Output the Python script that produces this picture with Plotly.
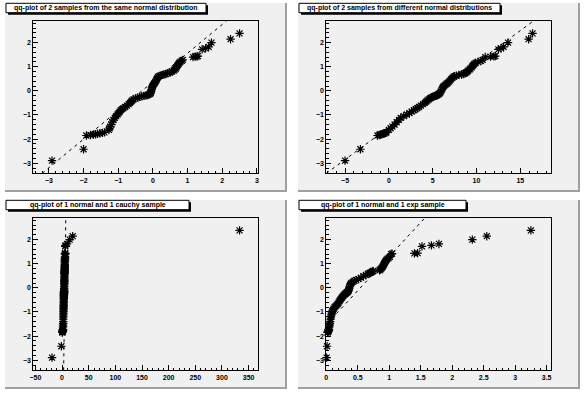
import plotly.graph_objects as go

W, H = 587, 394

# ---------------- data ----------------
# sorted normal sample shared by the vertical axis of all four qq-plots
y_normal = [-2.89, -2.42, -1.85, -1.83, -1.81, -1.80, -1.78, -1.76, -1.74, -1.72,
            -1.62, -1.55, -1.48, -1.40, -1.30, -1.20, -1.12, -1.05, -0.98, -0.92,
            -0.86, -0.80, -0.76, -0.72, -0.67, -0.61, -0.55, -0.50, -0.45, -0.40,
            -0.35, -0.31, -0.28, -0.25, -0.23, -0.21, -0.19, -0.17, -0.15, -0.12,
            -0.08, -0.02, 0.05, 0.12, 0.17, 0.21, 0.25, 0.29, 0.32, 0.36,
            0.42, 0.48, 0.54, 0.58, 0.61, 0.63, 0.66, 0.68, 0.70, 0.73,
            0.76, 0.80, 0.84, 0.88, 0.92, 0.97, 1.03, 1.08, 1.12, 1.16,
            1.20, 1.24, 1.28, 1.40, 1.42, 1.43, 1.44, 1.72, 1.76, 1.82,
            2.00, 2.14, 2.38]

x_same = [-2.91, -2.00, -1.92, -1.80, -1.72, -1.66, -1.60, -1.53, -1.46, -1.40,
          -1.27, -1.25, -1.23, -1.20, -1.17, -1.14, -1.10, -1.06, -1.02, -0.99,
          -0.96, -0.93, -0.89, -0.85, -0.80, -0.75, -0.70, -0.66, -0.63, -0.60,
          -0.56, -0.50, -0.44, -0.38, -0.32, -0.26, -0.20, -0.15, -0.11, -0.08,
          -0.06, -0.05, -0.04, -0.03, -0.02, 0.00, 0.01, 0.03, 0.05, 0.07,
          0.09, 0.11, 0.13, 0.15, 0.18, 0.22, 0.27, 0.32, 0.37, 0.43,
          0.49, 0.55, 0.60, 0.63, 0.66, 0.68, 0.70, 0.72, 0.74, 0.76,
          0.79, 0.83, 0.86, 1.16, 1.22, 1.27, 1.30, 1.42, 1.52, 1.61,
          1.69, 2.24, 2.50]

x_diff = [-5.00, -3.25, -1.30, -1.10, -0.95, -0.80, -0.65, -0.50, -0.38, -0.28,
          0.00, 0.20, 0.40, 0.65, 0.90, 1.15, 1.35, 1.70, 2.05, 2.35,
          2.60, 2.85, 3.05, 3.25, 3.45, 3.65, 3.90, 4.10, 4.25, 4.40,
          4.55, 4.70, 4.85, 5.00, 5.15, 5.30, 5.45, 5.55, 5.65, 5.75,
          5.85, 5.95, 6.05, 6.12, 6.20, 6.32, 6.45, 6.58, 6.70, 6.82,
          6.95, 7.10, 7.25, 7.38, 7.50, 7.70, 8.00, 8.30, 8.50, 8.70,
          8.85, 8.95, 9.05, 9.20, 9.30, 9.45, 9.55, 9.65, 9.75, 9.90,
          10.15, 10.50, 10.70, 11.00, 11.60, 12.00, 12.15, 12.50, 12.80, 13.10,
          13.60, 15.95, 16.40]

x_cauchy = [-18.8, -1.3, 0.4, 0.7, 0.9, 1.1, 1.3, 1.5, 1.6, 1.7,
            1.8, 1.9, 2.0, 2.1, 2.2, 2.3, 2.4, 2.5, 2.6, 2.7,
            2.8, 2.9, 3.0, 3.0, 3.1, 3.1, 3.2, 3.2, 3.3, 3.3,
            3.4, 3.4, 3.5, 3.5, 3.6, 3.6, 3.7, 3.7, 3.8, 3.8,
            3.9, 3.9, 4.0, 4.0, 4.1, 4.1, 4.2, 4.2, 4.3, 4.3,
            4.4, 4.4, 4.5, 4.5, 4.6, 4.6, 4.7, 4.7, 4.8, 4.8,
            4.9, 4.9, 5.0, 5.0, 5.1, 5.1, 5.2, 5.2, 5.3, 5.3,
            5.4, 5.5, 5.6, 5.6, 5.7, 5.75, 5.8, 5.9, 6.4, 9.3,
            14.3, 19.9, 333.0]

x_exp = [0.005, 0.012, 0.020, 0.024, 0.028, 0.031, 0.034, 0.037, 0.040, 0.043,
         0.048, 0.052, 0.057, 0.062, 0.068, 0.074, 0.080, 0.087, 0.095, 0.105,
         0.118, 0.132, 0.148, 0.165, 0.180, 0.195, 0.210, 0.222, 0.235, 0.248,
         0.262, 0.275, 0.288, 0.300, 0.310, 0.320, 0.330, 0.338, 0.345, 0.352,
         0.358, 0.364, 0.370, 0.378, 0.388, 0.400, 0.420, 0.445, 0.475, 0.510,
         0.550, 0.590, 0.630, 0.660, 0.685, 0.705, 0.720, 0.735, 0.745, 0.845,
         0.860, 0.872, 0.884, 0.895, 0.905, 0.915, 0.925, 0.935, 0.945, 0.955,
         0.970, 0.990, 1.010, 1.030, 1.045, 1.400, 1.450, 1.520, 1.670, 1.790,
         2.320, 2.550, 3.250]

# quartile anchor points of the dashed reference lines
line_same_x = [-0.99, 0.77]
line_same_y = [-0.80, 1.29]
line_diff_x = [2.70, 9.70]
line_diff_y = [-0.79, 1.08]
line_cauchy_x = [4.60, 5.80]
line_cauchy_y = [-0.80, 1.10]
line_exp_x = [0.25, 1.00]
line_exp_y = [-0.82, 1.30]

titles = ["qq-plot of 2 samples from the same normal distribution",
          "qq-plot of 2 samples from different normal distributions",
          "qq-plot of 1 normal and 1 cauchy sample",
          "qq-plot of 1 normal and 1 exp sample"]

x_major = [1, 5, 50, 0.5]
x_minor = [0.2, 1, 10, 0.1]
y_major = 1
y_minor = 0.2

# ---------------- layout geometry (pixels) ----------------
frames = [(33.3, 258.3, 20.7, 173.3), (326.3, 551.3, 20.7, 173.3),
          (33.3, 258.3, 217.7, 370.3), (326.3, 551.3, 217.7, 370.3)]
pads = [(5, 287, 3, 192), (298, 580, 3, 192),
        (5, 287, 200, 389), (298, 580, 200, 389)]
boxes = [(6, 206, 3.3, 12.7), (299, 500, 3.3, 12.7),
         (6, 189, 200.3, 209.7), (299, 466, 200.3, 209.7)]

PAD_COLOR = "#f0f0f0"
FONT = "Liberation Sans"


def px(x):
    return x / W


def py(y):
    return 1 - y / H


def root_range(vals):
    lo, hi = min(vals), max(vals)
    d = hi - lo
    rlo, rhi = lo - 0.1 * d, hi + 0.1 * d
    if lo >= 0 and rlo < 0:
        rlo = 0.0
    return [rlo, rhi]


samples = [x_same, x_diff, x_cauchy, x_exp]
lines = [(line_same_x, line_same_y), (line_diff_x, line_diff_y),
         (line_cauchy_x, line_cauchy_y), (line_exp_x, line_exp_y)]

fig = go.Figure()
shapes = []
annotations = []
yr = root_range(y_normal)

for i in range(4):
    ax = "" if i == 0 else str(i + 1)
    xs = samples[i]
    xr = root_range(xs)
    fx0, fx1, fy0, fy1 = frames[i]

    # dashed reference line through the quartile anchors, extended over the frame
    lx, ly = lines[i]
    m = (ly[1] - ly[0]) / (lx[1] - lx[0])
    ends_y = [yr[0], yr[1]]
    ends_x = [lx[0] + (v - ly[0]) / m for v in ends_y]
    fig.add_trace(go.Scatter(x=ends_x, y=ends_y, mode="lines",
                             line=dict(color="black", width=1, dash="3px,4px"),
                             xaxis="x" + ax, yaxis="y" + ax, showlegend=False,
                             hoverinfo="skip"))
    fig.add_trace(go.Scatter(x=xs, y=y_normal, mode="markers",
                             marker=dict(symbol="asterisk-open", size=7,
                                         color="black",
                                         line=dict(color="black", width=1.2)),
                             cliponaxis=False,
                             xaxis="x" + ax, yaxis="y" + ax, showlegend=False))

    common = dict(showline=True, mirror=True, linecolor="black", linewidth=1,
                  ticks="inside", ticklen=5, tickwidth=1, tickcolor="black",
                  showgrid=False, zeroline=False, automargin=False,
                  tickfont=dict(family=FONT, size=7, color="black", weight="bold"))
    fig.update_layout(**{
        "xaxis" + ax: dict(domain=[px(fx0), px(fx1)], range=xr, dtick=x_major[i],
                           anchor="y" + ax,
                           minor=dict(dtick=x_minor[i], ticks="inside", ticklen=2.5,
                                      tickcolor="black", tickwidth=1),
                           **common),
        "yaxis" + ax: dict(domain=[py(fy1), py(fy0)], range=yr, dtick=y_major,
                           anchor="x" + ax,
                           minor=dict(dtick=y_minor, ticks="inside", ticklen=2.5,
                                      tickcolor="black", tickwidth=1),
                           **common),
    })

    # pad background + bevel
    x0, x1, y0, y1 = pads[i]
    shapes.append(dict(type="rect", xref="paper", yref="paper", layer="below",
                       x0=px(x0), x1=px(x1), y0=py(y1), y1=py(y0),
                       fillcolor=PAD_COLOR, line=dict(width=0)))
    shapes.append(dict(type="line", xref="paper", yref="paper", layer="below",
                       x0=px(x1 - 1), x1=px(x1 - 1), y0=py(y1), y1=py(y0),
                       line=dict(color="#a0a0a0", width=2)))
    shapes.append(dict(type="line", xref="paper", yref="paper", layer="below",
                       x0=px(x0), x1=px(x1), y0=py(y1 - 1), y1=py(y1 - 1),
                       line=dict(color="#a0a0a0", width=2)))

    # title box with shadow
    bx0, bx1, by0, by1 = boxes[i]
    shapes.append(dict(type="rect", xref="paper", yref="paper", layer="above",
                       x0=px(bx0 + 2), x1=px(bx1 + 2), y0=py(by1 + 2), y1=py(by0 + 2),
                       fillcolor="black", line=dict(width=0)))
    shapes.append(dict(type="rect", xref="paper", yref="paper", layer="above",
                       x0=px(bx0), x1=px(bx1), y0=py(by1), y1=py(by0),
                       fillcolor="white", line=dict(color="black", width=1)))
    annotations.append(dict(xref="paper", yref="paper",
                            x=px((bx0 + bx1) / 2), y=py((by0 + by1) / 2),
                            xanchor="center", yanchor="middle", showarrow=False,
                            text="<b>" + titles[i] + "</b>",
                            font=dict(family=FONT, size=7, color="black")))

fig.update_layout(width=W, height=H, margin=dict(l=0, r=0, t=0, b=0),
                  paper_bgcolor="white", plot_bgcolor="rgba(0,0,0,0)",
                  shapes=shapes, annotations=annotations, showlegend=False,
                  hovermode=False)

fig.write_html("out.html",
               config={"displayModeBar": False, "staticPlot": True},
               post_script="document.body.style.margin='0';"
                           "document.body.style.overflow='hidden';")
